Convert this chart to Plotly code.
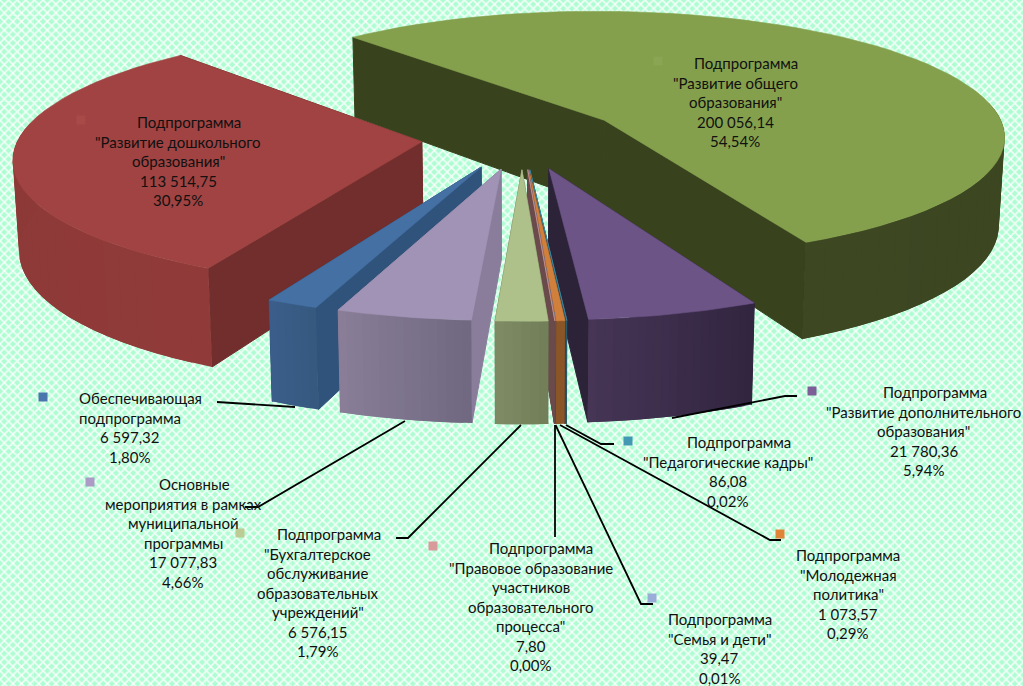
import base64
import math

import plotly.graph_objects as go

# Data, clockwise from the red slice
names = [
    ['Подпрограмма', '"Развитие дошкольного', 'образования"'],
    ['Подпрограмма', '"Развитие общего', 'образования"'],
    ['Подпрограмма', '"Развитие дополнительного', 'образования"'],
    ['Подпрограмма', '"Педагогические кадры"'],
    ['Подпрограмма', '"Молодежная', 'политика"'],
    ['Подпрограмма', '"Семья и дети"'],
    ['Подпрограмма', '"Правовое образование', 'участников', 'образовательного', 'процесса"'],
    ['Подпрограмма', '"Бухгалтерское', 'обслуживание', 'образовательных', 'учреждений"'],
    ['Основные', 'мероприятия в рамках', 'муниципальной', 'программы'],
    ['Обеспечивающая', 'подпрограмма'],
]
values = [113514.75, 200056.14, 21780.36, 86.08, 1073.57, 39.47, 7.80, 6576.15, 17077.83, 6597.32]

# Slice colours: top, cut side, rim left, rim right
top_colors = ['#a04342', '#84a04c', '#6d5487', '#3f93ad', '#d0803a', '#93a6d0', '#d49a9a', '#aec18b', '#a193b5', '#4570a3']
side_colors = ['#722d2d', '#38421d', '#2c2339', '#1e4a58', '#5a3f3e', '#4a5570', '#6a4a4a', '#6a7550', '#8a7d9c', '#30537b']
rim_left = ['#8a3836', '#3d4722', '#463556', '#2a6071', '#8a5527', '#5a6a8a', '#8a6060', '#7f8b65', '#8a7e98', '#3a5f8a']
rim_right = ['#903b39', '#38421d', '#31253f', '#2a6071', '#8a5527', '#5a6a8a', '#8a6060', '#717e58', '#6f6880', '#36587f']
draw_order = [1, 0, 9, 2, 3, 4, 5, 6, 7, 8]

# Label placing: centre x, first line x, first line y, marker x, marker y, marker colour
label_x = [178, 735, 923.5, 727.5, 848, 719.5, 530.5, 317.5, 183, 129.5]
first_x = [189, 746, 935, 738.5, 848, 719.5, 540.5, 329, 194, 140]
first_y = [122, 63, 392, 442, 555, 619, 548, 534, 484, 398]
marker_x = [81, 658, 812, 628, 780, 652, 433, 240, 90, 43]
marker_y = [120, 61, 391, 441, 534, 598, 546, 533, 482, 397]
marker_colors = ['#a84a48', '#8aa553', '#7b5f96', '#4398b3', '#e08438', '#9aacd8', '#d99a9c', '#bccc94', '#ab9bc6', '#4a76ad']

leaders = [
    [(217, 402), (295, 407)],
    [(245, 507), (258, 507), (405, 421)],
    [(396, 538), (408, 538), (521, 425)],
    [(555, 537), (555, 425)],
    [(653, 604), (641, 604), (555.5, 425)],
    [(781, 540), (770, 540), (560, 425)],
    [(614, 444), (601, 444), (566, 425)],
    [(797, 396), (785, 396), (672, 418)],
]

# 3D pie camera, in pixels
CX, CY, A, B, K, H = 522, 137.5, 403, 125.5, 0.117, 88
EXPLODE = 0.25
START = 26.5


def proj(x, y, z=0):
    w = 1 + K * y
    return CX + A * x / w * (1 - 0.012 * z), CY - B * y / w + H * z / w


def unit(phi):
    a = math.radians(phi)
    return -math.sin(a), -math.cos(a)


def poly(fig, pts, color, outline=0.6):
    fig.add_trace(go.Scatter(
        x=[p[0] for p in pts] + [pts[0][0]],
        y=[p[1] for p in pts] + [pts[0][1]],
        mode='lines',
        fill='toself',
        fillcolor=color,
        line=dict(color=color, width=outline),
        hoverinfo='skip',
        showlegend=False,
    ))


def mix(c1, c2, t):
    a = [int(c1[i:i + 2], 16) for i in (1, 3, 5)]
    b = [int(c2[i:i + 2], 16) for i in (1, 3, 5)]
    return '#%02x%02x%02x' % tuple(round(p + (q - p) * t) for p, q in zip(a, b))


def draw_slice(fig, i, phi0, phi1):
    ux, uy = unit((phi0 + phi1) / 2)
    ox, oy = EXPLODE * ux, EXPLODE * uy
    span = phi1 - phi0
    step = 1.0 if span < 30 else 3.0
    n = max(2, int(span / step))
    arc = [phi0 + span * j / n for j in range(n + 1)]
    rim = [(ox + unit(p)[0], oy + unit(p)[1]) for p in arc]

    # cut sides
    for end in (rim[-1], rim[0]):
        poly(fig, [proj(ox, oy), proj(*end), proj(end[0], end[1], 1), proj(ox, oy, 1)], side_colors[i], outline=1)
    # outer rim, each strip runs under the next one so no seam shows
    for j in range(n):
        # back of the rim faces away from the camera
        if unit(arc[j])[1] > 0.1 and unit(arc[j + 1])[1] > 0.1:
            continue
        t = 1 - (j + 0.5) / n
        color = mix(rim_left[i], rim_right[i], t)
        strip = rim[j:j + 3]
        pts = [proj(*p) for p in strip] + [proj(p[0], p[1], 1) for p in reversed(strip)]
        poly(fig, pts, color, outline=0)
    # top
    poly(fig, [proj(ox, oy)] + [proj(*p) for p in rim], top_colors[i])


def background():
    svg = (
        '<svg xmlns="http://www.w3.org/2000/svg" width="1023" height="686">'
        '<defs><pattern id="p" width="8.6" height="8.6" patternUnits="userSpaceOnUse">'
        '<rect width="8.6" height="8.6" fill="#aefdd2"/>'
        '<path d="M0 0L8.6 8.6M8.6 0L0 8.6" stroke="#ffffff" stroke-width="1.7" stroke-opacity="0.8"/>'
        '<circle cx="4.3" cy="4.3" r="1" fill="#ffffff"/>'
        '</pattern>'
        '<pattern id="s" width="86" height="86" x="33" y="15" patternUnits="userSpaceOnUse">'
        '<path d="M0 0H86M0 0V86" stroke="#ffffff" stroke-width="1" stroke-opacity="0.45"/>'
        '</pattern></defs>'
        '<rect width="1023" height="686" fill="url(#p)"/>'
        '<rect width="1023" height="686" fill="url(#s)"/>'
        '</svg>'
    )
    return 'data:image/svg+xml;base64,' + base64.b64encode(svg.encode()).decode()


total = sum(values)
angles = [START]
for v in values:
    angles.append(angles[-1] + v / total * 360)

fig = go.Figure()
for i in draw_order:
    draw_slice(fig, i, angles[i], angles[i + 1])

# leader lines
for line in leaders:
    fig.add_trace(go.Scatter(
        x=[p[0] for p in line],
        y=[p[1] for p in line],
        mode='lines',
        line=dict(color='#000000', width=1.8),
        hoverinfo='skip',
        showlegend=False,
    ))

# small legend keys next to the labels
fig.add_trace(go.Scatter(
    x=marker_x,
    y=marker_y,
    mode='markers',
    marker=dict(symbol='square', size=9, color=marker_colors),
    hoverinfo='skip',
    showlegend=False,
))

annotations = []
for i, lines in enumerate(names):
    text = lines + [
        f'{values[i]:,.2f}'.replace(',', ' ').replace('.', ','),
        f'{values[i] / total * 100:.2f}%'.replace('.', ','),
    ]
    for j, t in enumerate(text):
        annotations.append(dict(
            x=first_x[i] if j == 0 else label_x[i],
            y=first_y[i] + j * 19.55,
            text=t,
            showarrow=False,
            xanchor='center',
            yanchor='middle',
            font=dict(family='Lato, Noto Sans, sans-serif', size=15, color='#111111'),
        ))

fig.update_layout(
    width=1023,
    height=686,
    margin=dict(l=0, r=0, t=0, b=0),
    paper_bgcolor='#c4fbe0',
    plot_bgcolor='rgba(0,0,0,0)',
    xaxis=dict(range=[0, 1023], visible=False, fixedrange=True),
    yaxis=dict(range=[686, 0], visible=False, fixedrange=True),
    images=[dict(source=background(), xref='paper', yref='paper', x=0, y=1,
                 sizex=1, sizey=1, xanchor='left', yanchor='top', sizing='stretch', layer='below')],
    annotations=annotations,
)

# the page body has a default margin, drop it so the chart fills the window
fig.write_html(
    'out.html',
    config=dict(displayModeBar=False),
    post_script="document.body.style.margin='0';document.documentElement.style.overflow='hidden';",
)
